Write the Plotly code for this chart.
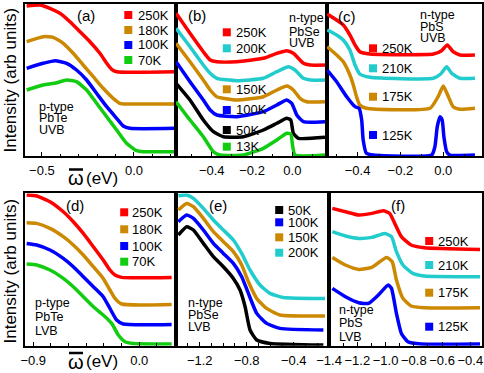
import plotly.graph_objects as go

W, H = 484, 373

RED, GOLD, BLUE, GREEN, CYAN, BLACK = "#ff0000", "#cc8800", "#0000ff", "#11cc11", "#22cccc", "#000000"

# ---- (a) p-type PbTe UVB
a_250_x = [-0.583, -0.511, -0.457, -0.402, -0.348, -0.293, -0.239, -0.185, -0.148, -0.121, -0.094, 0.223]
a_250_y = [150, 151, 147.7, 142.7, 134.3, 124.3, 114.3, 102.7, 92.7, 86.7, 84.3, 84.3]
a_180_x = [-0.583, -0.493, -0.439, -0.384, -0.330, -0.276, -0.221, -0.167, -0.113, -0.076, -0.040, 0.223]
a_180_y = [114.3, 119.3, 118.7, 112.7, 102.7, 91, 79.3, 67.7, 57.7, 52.7, 52, 52]
a_100_x = [-0.583, -0.493, -0.429, -0.366, -0.312, -0.257, -0.203, -0.148, -0.094, -0.058, -0.022, 0.223]
a_100_y = [87.7, 92.7, 95.3, 92.7, 86, 76, 62.7, 49.3, 37.7, 30, 27.7, 27.7]
a_70_x = [-0.583, -0.493, -0.420, -0.366, -0.312, -0.257, -0.203, -0.148, -0.094, -0.040, 0.015, 0.051, 0.223]
a_70_y = [66, 71, 73.3, 76, 74.3, 66, 52.7, 39.3, 26, 12.7, 5.3, 4.3, 4.3]

# ---- (b) n-type PbSe UVB
b_250_x = [-0.577, -0.508, -0.442, -0.408, -0.375, -0.276, -0.144, -0.077, -0.028, 0.005, 0.055, 0.088, 0.171]
b_250_y = [142.7, 122.7, 104.3, 96, 94.3, 94.3, 97.7, 102.7, 105.3, 102.7, 92.7, 91, 91]
b_200_x = [-0.577, -0.508, -0.442, -0.408, -0.375, -0.276, -0.144, -0.077, -0.020, 0.013, 0.055, 0.088, 0.171]
b_200_y = [127.7, 109.3, 91, 82.7, 77.7, 75.3, 77.7, 84.3, 89.3, 86, 77.7, 76, 76]
b_150_x = [-0.577, -0.508, -0.442, -0.408, -0.375, -0.276, -0.144, -0.077, -0.028, 0.005, 0.038, 0.071, 0.162]
b_150_y = [112.7, 94.3, 76, 66, 59.3, 56, 59.3, 66, 70, 66, 57.7, 54.3, 54.3]
b_100_x = [-0.577, -0.508, -0.442, -0.408, -0.375, -0.276, -0.144, -0.077, -0.028, -0.003, 0.022, 0.055, 0.162]
b_100_y = [94.3, 74.3, 56, 46, 41, 39.3, 44.3, 51, 56, 52.7, 41, 34.3, 34.3]
b_50_x = [-0.577, -0.508, -0.442, -0.392, -0.342, -0.243, -0.144, -0.077, -0.028, -0.008, 0.005, 0.030, 0.162]
b_50_y = [72.7, 56, 36, 24.3, 19.3, 19.3, 26, 32.7, 37.7, 36, 22.7, 17.7, 18.7]
b_13_x = [-0.577, -0.508, -0.442, -0.392, -0.359, -0.243, -0.144, -0.077, -0.028, -0.008, 0.002, 0.013, 0.162]
b_13_y = [54.3, 36, 19.3, 4.3, 1, 1, 7.7, 16, 22.7, 22, 9.3, 1, 1]

# ---- (c) n-type PbS UVB
c_250_x = [-0.542, -0.498, -0.467, -0.436, -0.412, -0.390, -0.342, -0.046, -0.008, 0.019, 0.046, 0.078, 0.148]
c_250_y = [142, 136, 131, 121, 111, 104.3, 102, 102, 105.3, 111, 104.3, 101, 101]
c_210_x = [-0.542, -0.498, -0.467, -0.436, -0.412, -0.390, -0.342, -0.046, -0.012, 0.016, 0.039, 0.078, 0.148]
c_210_y = [126, 121, 116, 106, 91, 82, 78.7, 77.7, 82, 89.3, 82.7, 77.7, 77.7]
c_175_x = [-0.542, -0.498, -0.467, -0.436, -0.420, -0.405, -0.390, -0.359, -0.062, -0.024, 0, 0.024, 0.046, 0.078, 0.148]
c_175_y = [109.3, 101, 94.3, 81, 71, 59.3, 51, 47.7, 47.7, 59.3, 70, 59.3, 49.3, 46.7, 47.7]
c_125_x = [-0.542, -0.498, -0.451, -0.412, -0.393, -0.381, -0.374, -0.359, -0.327, -0.054, -0.039, -0.028,
           -0.015, -0.005, 0.003, 0.016, 0.031, 0.148]
c_125_y = [86, 74.3, 59.3, 49.3, 47.7, 36, 16, 2.7, 1, 1, 9.3, 29.3, 39.3, 36, 19.3, 4.3, 1, 1]

# ---- (d) p-type PbTe LVB
d_250_x = [-0.956, -0.871, -0.758, -0.645, -0.560, -0.475, -0.390, -0.306, -0.249, -0.206, -0.149, 0.275]
d_250_y = [150.7, 149.7, 144, 134, 124, 112.3, 99, 85.7, 75.7, 70.7, 68.3, 68.3]
d_180_x = [-0.956, -0.871, -0.758, -0.645, -0.560, -0.475, -0.390, -0.306, -0.249, -0.206, -0.149, 0.275]
d_180_y = [123, 122.3, 117.3, 109, 100.7, 90.7, 79, 67.3, 55.7, 47.3, 41.7, 41.3]
d_100_x = [-0.956, -0.871, -0.758, -0.645, -0.560, -0.475, -0.390, -0.306, -0.249, -0.192, -0.136, 0.275]
d_100_y = [102.3, 100.7, 95.7, 87.3, 79, 69, 59, 49, 37.3, 25.7, 21.7, 21.3]
d_70_x = [-0.956, -0.871, -0.758, -0.645, -0.560, -0.475, -0.390, -0.306, -0.234, -0.178, -0.121, -0.051, 0.275]
d_70_y = [81.7, 80.7, 75.7, 67.3, 59, 49, 39, 30.7, 22.3, 10.7, 4, 2.3, 1.7]

# ---- (e) n-type PbSe LVB
e_50_x = [-1.382, -1.311, -1.254, -1.169, -1.084, -0.999, -0.914, -0.857, -0.814, -0.772, -0.715, -0.602, -0.148]
e_50_y = [110.7, 119, 115.7, 102.3, 89, 79, 67.3, 55.7, 39, 15.7, 5.7, 2.3, 0.7]
e_100_x = [-1.382, -1.311, -1.254, -1.169, -1.084, -0.999, -0.914, -0.843, -0.786, -0.715, -0.630, -0.517, -0.148]
e_100_y = [124, 130.7, 127.3, 115.7, 102.3, 92.3, 82.3, 69, 52.3, 32.3, 22.3, 17.3, 15.7]
e_150_x = [-1.382, -1.311, -1.254, -1.169, -1.084, -0.999, -0.914, -0.843, -0.786, -0.715, -0.630, -0.517, -0.134]
e_150_y = [135.7, 142.3, 139, 127.3, 114, 104, 94, 80.7, 64, 47.3, 37.3, 30.7, 29.7]
e_200_x = [-1.382, -1.311, -1.254, -1.169, -1.084, -0.999, -0.914, -0.843, -0.772, -0.687, -0.602, -0.489, -0.134]
e_200_y = [150, 150.7, 147.3, 137.3, 125.7, 115.7, 105.7, 92.3, 75.7, 60.7, 52.3, 48.3, 47.3]

# ---- (f) n-type PbS LVB
f_250_x = [-1.377, -1.284, -1.190, -1.098, -1.016, -0.970, -0.935, -0.888, -0.819, -0.726, -0.331]
f_250_y = [137.3, 134, 130.7, 132.3, 135, 132.3, 122.3, 109, 100.7, 98, 96.3]
f_210_x = [-1.377, -1.284, -1.190, -1.098, -1.005, -0.958, -0.923, -0.877, -0.807, -0.726, -0.331]
f_210_y = [114, 109.7, 107.3, 108.3, 112.3, 109, 94, 80.7, 72.3, 69.7, 69]
f_175_x = [-1.377, -1.284, -1.190, -1.098, -0.993, -0.953, -0.923, -0.877, -0.819, -0.726, -0.331]
f_175_y = [88.3, 80.7, 76.3, 78.3, 88.3, 84, 65.7, 47.3, 39.7, 38, 38]
f_125_x = [-1.377, -1.284, -1.190, -1.121, -1.051, -0.981, -0.958, -0.923, -0.888, -0.842, -0.749, -0.331]
f_125_y = [57.3, 49, 43, 42.3, 50.7, 60.7, 57.3, 32.3, 12.3, 4, 1.7, 1.7]

FONT = "Liberation Sans"


def px(x):
    return x / W


def py(y):
    return 1 - y / H


# panel: (series, x range, dtick, minor dtick, pixel box, y top)
panels = [
    ([(a_250_x, a_250_y, RED), (a_180_x, a_180_y, GOLD), (a_100_x, a_100_y, BLUE), (a_70_x, a_70_y, GREEN)],
     [-0.592, 0.227], 0.5, 0.1, (25, 175.7, 4, 156), 152),
    ([(b_250_x, b_250_y, RED), (b_200_x, b_200_y, CYAN), (b_150_x, b_150_y, GOLD), (b_100_x, b_100_y, BLUE),
      (b_50_x, b_50_y, BLACK), (b_13_x, b_13_y, GREEN)],
     [-0.579, 0.172], 0.2, 0.1, (175.7, 327, 4, 156), 152),
    ([(c_250_x, c_250_y, RED), (c_210_x, c_210_y, CYAN), (c_175_x, c_175_y, GOLD), (c_125_x, c_125_y, BLUE)],
     [-0.543, 0.181], 0.2, 0.1, (327, 482, 4, 156), 152),
    ([(d_250_x, d_250_y, RED), (d_180_x, d_180_y, GOLD), (d_100_x, d_100_y, BLUE), (d_70_x, d_70_y, GREEN)],
     [-0.970, 0.312], 0.9, 0.15, (25, 176, 193.3, 345.7), 152.4),
    ([(e_50_x, e_50_y, BLACK), (e_100_x, e_100_y, BLUE), (e_150_x, e_150_y, GOLD), (e_200_x, e_200_y, CYAN)],
     [-1.402, -0.100], 0.4, 0.1, (176, 329, 193.3, 345.7), 152.4),
    ([(f_250_x, f_250_y, RED), (f_210_x, f_210_y, CYAN), (f_175_x, f_175_y, GOLD), (f_125_x, f_125_y, BLUE)],
     [-1.4005, -0.317], 0.2, 0.1, (329, 482, 193.3, 345.7), 152.4),
]
tick0s = [0, 0, 0, 0, -1.2, -1.0]

fig = go.Figure()
layout = {}
for i, (series, xr, dt, mdt, box, ytop) in enumerate(panels, start=1):
    sfx = "" if i == 1 else str(i)
    for xs, ys, c in series:
        fig.add_trace(go.Scatter(x=xs, y=ys, mode="lines", xaxis="x" + sfx, yaxis="y" + sfx,
                                 line=dict(color=c, width=3.5, shape="spline", smoothing=0.5),
                                 hoverinfo="skip"))
    x0, x1, y0, y1 = box
    layout["xaxis" + sfx] = dict(
        domain=[px(x0), px(x1)], anchor="y" + sfx, range=xr, showgrid=False, zeroline=False,
        showline=True, linecolor="black", linewidth=1.5, mirror=True, automargin=False,
        ticks="inside", ticklen=4, tickwidth=1.2, tickcolor="black", dtick=dt, tick0=tick0s[i - 1],
        tickformat=".1f", ticklabelstandoff=2, tickangle=0,
        minor=dict(ticks="inside", ticklen=2.5, tickwidth=1, tickcolor="black", dtick=mdt),
        tickfont=dict(family=FONT, size=13, color="black"),
    )
    layout["yaxis" + sfx] = dict(
        domain=[py(y1), py(y0)], anchor="x" + sfx, range=[0, ytop], showgrid=False, zeroline=False,
        showline=True, linecolor="black", linewidth=1.5, mirror=True, showticklabels=False, ticks="",
        automargin=False,
    )

shapes = []
annotations = []


def text(x, y, s, size=13, anchor="left", angle=0):
    annotations.append(dict(x=px(x), y=py(y), xref="paper", yref="paper", text=s, showarrow=False,
                            xanchor=anchor, yanchor="middle", textangle=angle,
                            font=dict(family=FONT, size=size, color="black")))


def key(cx, tx, y, color, label):
    shapes.append(dict(type="rect", xref="paper", yref="paper", x0=px(cx - 4), x1=px(cx + 4),
                       y0=py(y + 4), y1=py(y - 4), fillcolor=color, line=dict(width=0)))
    text(tx, y, label)


# legends
for y, c, s in [(15, RED, "250K"), (30, GOLD, "180K"), (45, BLUE, "100K"), (60, GREEN, "70K")]:
    key(128.3, 135.5, y, c, s)
for y, c, s in [(32.3, RED, "250K"), (48.3, CYAN, "200K"), (89.3, GOLD, "150K"), (110, BLUE, "100K"),
                (130, BLACK, "50K"), (146.7, GREEN, "13K")]:
    key(226.8, 234, y, c, s)
for y, c, s in [(48.3, RED, "250K"), (68.3, CYAN, "210K"), (96.7, GOLD, "175K"), (135, BLUE, "125K")]:
    key(373, 379.5, y, c, s)
for y, c, s in [(212.3, RED, "250K"), (229.3, GOLD, "180K"), (246, BLUE, "100K"), (261.7, GREEN, "70K")]:
    key(124.2, 129.5, y, c, s)
for y, c, s in [(210, BLACK, "50K"), (222.3, BLUE, "100K"), (237.3, GOLD, "150K"), (252.7, CYAN, "200K")]:
    key(279.2, 285.5, y, c, s)
for y, c, s in [(241, RED, "250K"), (265, CYAN, "210K"), (292.7, GOLD, "175K"), (326.7, BLUE, "125K")]:
    key(429.2, 435.5, y, c, s)

# panel tags
for x, y, s in [(85.7, 15, "(a)"), (196.7, 15, "(b)"), (346.7, 16.7, "(c)"),
                (75, 205, "(d)"), (218.3, 205, "(e)"), (398.3, 205, "(f)")]:
    text(x, y, s, size=15, anchor="center")

# sample descriptions
for x, ys, lines in [(36.7, (106.7, 118.3, 130), ("p-type", "PbTe", "UVB")),
                     (286.7, (18.3, 31.7, 43.3), ("n-type", "PbSe", "UVB")),
                     (418.3, (15, 26.7, 38.3), ("n-type", "PbS", "UVB")),
                     (33.3, (303.3, 316.7, 330.7), ("p-type", "PbTe", "LVB")),
                     (186, (303.3, 315, 326.7), ("n-type", "PbSe", "LVB")),
                     (336.7, (310, 323.3, 336.7), ("n-type", "PbS", "LVB"))]:
    for y, s in zip(ys, lines):
        text(x, y, s, size=12.5)

# axis titles
for y in (80, 271):
    text(9.5, y, "Intensity (arb units)", size=17, anchor="center", angle=-90)
for y in (178, 361.5):
    text(76, y, "\u03c9", size=20, anchor="center")
    text(84, y, "(eV)", size=17)
    shapes.append(dict(type="line", xref="paper", yref="paper", x0=px(69), x1=px(83),
                       y0=py(y - 8.5), y1=py(y - 8.5), line=dict(color="black", width=2.5)))

fig.update_layout(width=W, height=H, margin=dict(l=0, r=0, t=0, b=0, autoexpand=False), showlegend=False,
                  plot_bgcolor="white", paper_bgcolor="white", shapes=shapes, annotations=annotations,
                  **layout)
fig.write_html("out.html", config={"displayModeBar": False},
               post_script="document.body.style.margin='0';")
